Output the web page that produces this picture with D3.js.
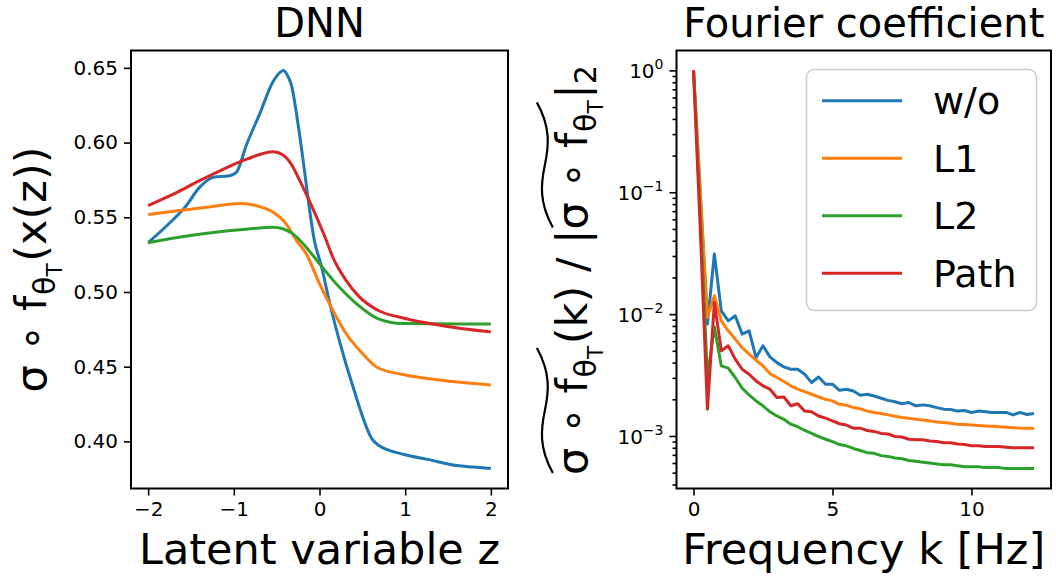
<!DOCTYPE html>
<html>
<head>
<meta charset="utf-8">
<script src="https://cdn.jsdelivr.net/npm/d3@7"></script>
<style>
  body { margin: 0; background: #fff; }
  svg { display: block; }
  text { font-family: "DejaVu Sans", sans-serif; fill: #000; }
</style>
</head>
<body>
<svg id="chart" width="1056" height="577"></svg>
<script>
// ---- DNN panel: sigma(f(x(z))) for each regulariser ----
const woZ = [-2, -1.78, -1.57, -1.4, -1.24, -1.05, -0.97, -0.85, -0.7, -0.54, -0.42, -0.37, -0.33, -0.25, -0.17, -0.12, -0.06, 0.02, 0.12, 0.23, 0.39, 0.62, 0.68, 1.0, 1.28, 1.6, 1.8, 2.0];
const woV = [0.533, 0.5445, 0.5567, 0.570, 0.5767, 0.5778, 0.580, 0.5989, 0.6189, 0.6411, 0.6483, 0.6445, 0.639, 0.6123, 0.5789, 0.5567, 0.5345, 0.5178, 0.4923, 0.4678, 0.4367, 0.4011, 0.3978, 0.3911, 0.3878, 0.3838, 0.3828, 0.3818];

const l1Z = [-2, -1.63, -1.32, -0.91, -0.74, -0.54, -0.39, -0.27, -0.155, 0, 0.155, 0.31, 0.5, 0.68, 1.0, 1.4, 2.0];
const l1V = [0.5518, 0.5545, 0.5567, 0.5593, 0.5578, 0.5533, 0.5456, 0.5345, 0.5256, 0.5056, 0.4878, 0.4722, 0.4589, 0.4493, 0.4445, 0.4411, 0.4378];

const l2Z = [-2, -1.51, -0.93, -0.54, -0.43, -0.31, -0.155, 0, 0.23, 0.43, 0.68, 0.97, 2.0];
const l2V = [0.533, 0.5378, 0.5416, 0.5433, 0.5423, 0.5389, 0.530, 0.5189, 0.5033, 0.4922, 0.4822, 0.4789, 0.4785];

const pathZ = [-2, -1.7, -1.4, -1.12, -0.85, -0.54, -0.43, -0.33, -0.23, -0.12, 0, 0.08, 0.155, 0.31, 0.465, 0.68, 1.0, 1.4, 2.0];
const pathV = [0.5578, 0.5656, 0.5745, 0.5823, 0.5889, 0.5938, 0.5918, 0.5856, 0.5745, 0.5611, 0.5456, 0.5345, 0.5233, 0.5078, 0.4967, 0.4878, 0.4823, 0.4778, 0.4733];

// ---- Fourier panel: normalised coefficient magnitude per frequency ----
const freqK = [0, 0.25, 0.5, 0.75, 1, 1.25, 1.5, 1.75, 2, 2.25, 2.5, 2.75, 3, 3.25, 3.5, 3.75, 4, 4.25, 4.5, 4.75,
  5, 5.25, 5.5, 5.75, 6, 6.25, 6.5, 6.75, 7, 7.25, 7.5, 7.75, 8, 8.25, 8.5, 8.75, 9, 9.25, 9.5, 9.75,
  10, 10.25, 10.5, 10.75, 11, 11.25, 11.5, 11.75, 12, 12.25];
const fcWo = [1, 0.09, 0.0083, 0.0311, 0.01064, 0.0088, 0.0097, 0.00685, 0.0073, 0.0044, 0.0055, 0.00446, 0.0040, 0.00369, 0.00353, 0.00353, 0.00321, 0.00274, 0.00305, 0.00266,
  0.00266, 0.00237, 0.00242, 0.00234, 0.00216, 0.0022, 0.00213, 0.00204, 0.00196, 0.00191, 0.00184, 0.00188, 0.00177, 0.0018, 0.00177, 0.00171, 0.00166, 0.00165, 0.0016, 0.00162,
  0.00156, 0.0016, 0.00158, 0.00156, 0.00156, 0.00156, 0.00149, 0.00156, 0.0015, 0.00153];
const fcL1 = [1, 0.095, 0.0094, 0.01416, 0.0088, 0.0073, 0.00623, 0.00532, 0.00469, 0.00419, 0.00376, 0.00325, 0.00302, 0.0028, 0.00258, 0.00242, 0.00231, 0.0022, 0.00209, 0.002,
  0.00194, 0.00182, 0.00179, 0.00171, 0.00167, 0.0016, 0.00156, 0.00153, 0.00149, 0.00145, 0.00142, 0.0014, 0.00137, 0.00135, 0.00133, 0.0013, 0.00129, 0.00127, 0.00125, 0.00124,
  0.00123, 0.00122, 0.00121, 0.0012, 0.00119, 0.00118, 0.00117, 0.00116, 0.00116, 0.00115];
const fcL2 = [1, 0.06, 0.0030, 0.00787, 0.00376, 0.0036, 0.00302, 0.00247, 0.00217, 0.00194, 0.00177, 0.00158, 0.00146, 0.00137, 0.00125, 0.00119, 0.00111, 0.00105, 0.00099, 0.00094,
  0.0009, 0.00085, 0.00083, 0.00079, 0.00076, 0.00073, 0.00072, 0.00069, 0.00068, 0.00066, 0.00065, 0.00063, 0.00062, 0.00061, 0.0006, 0.00059, 0.00058, 0.00058, 0.00057, 0.00056,
  0.00056, 0.00056, 0.00055, 0.00055, 0.00055, 0.00054, 0.00054, 0.00054, 0.00054, 0.00054];
const fcPath = [1, 0.045, 0.00166, 0.01247, 0.005, 0.0055, 0.00427, 0.00353, 0.00321, 0.00283, 0.00258, 0.00242, 0.00207, 0.00209, 0.00177, 0.00184, 0.0016, 0.00158, 0.00146, 0.0014,
  0.00133, 0.00126, 0.00123, 0.00116, 0.00116, 0.00111, 0.00109, 0.00105, 0.00104, 0.00099, 0.00098, 0.00094, 0.00093, 0.00093, 0.00091, 0.0009, 0.00088, 0.00088, 0.00086, 0.00085,
  0.00083, 0.00083, 0.00082, 0.00082, 0.00082, 0.00081, 0.0008, 0.0008, 0.0008, 0.0008];

const seriesNames = ['w/o', 'L1', 'L2', 'Path'];
const seriesColors = ['#1f77b4', '#ff7f0e', '#2ca02c', '#d62728'];

const dnnTicksX = [-2, -1, 0, 1, 2];
const dnnTicksY = [0.40, 0.45, 0.50, 0.55, 0.60, 0.65];
const fcTicksX = [0, 5, 10];
const fcTicksY = [1, 0.1, 0.01, 0.001];
const fcTickExp = ['0', '\u22121', '\u22122', '\u22123'];

const svg = d3.select('#chart');

// panel boxes (pixels)
const boxL = { x0: 131, x1: 508, y0: 50.5, y1: 488.5 };
const boxR = { x0: 676.5, x1: 1051, y0: 50.5, y1: 488.5 };

const TICK_FONT = 20;
const TITLE_FONT = 40;
const LABEL_FONT = 43;

// matplotlib-like autoscale with 5% margins
function padded(lo, hi) {
    const m = (hi - lo) * 0.05;
    return [lo - m, hi + m];
}

// ---------------- left panel ----------------
const xL = d3.scaleLinear().domain(padded(-2, 2)).range([boxL.x0, boxL.x1]);
const yL = d3.scaleLinear()
    .domain(padded(d3.min(woV), d3.max(woV)))
    .range([boxL.y1, boxL.y0]);

const defs = svg.append('defs');
defs.append('clipPath').attr('id', 'clipL').append('rect')
    .attr('x', boxL.x0).attr('y', boxL.y0)
    .attr('width', boxL.x1 - boxL.x0).attr('height', boxL.y1 - boxL.y0);
defs.append('clipPath').attr('id', 'clipR').append('rect')
    .attr('x', boxR.x0).attr('y', boxR.y0)
    .attr('width', boxR.x1 - boxR.x0).attr('height', boxR.y1 - boxR.y0);

const dnnSeries = [
    { z: woZ, v: woV },
    { z: l1Z, v: l1V },
    { z: l2Z, v: l2V },
    { z: pathZ, v: pathV }
];

const lineL = d3.line()
    .x((d) => xL(d[0]))
    .y((d) => yL(d[1]))
    .curve(d3.curveMonotoneX);

const gL = svg.append('g').attr('clip-path', 'url(#clipL)');
dnnSeries.forEach((s, i) => {
    gL.append('path')
        .datum(s.z.map((z, j) => [z, s.v[j]]))
        .attr('d', lineL)
        .attr('fill', 'none')
        .attr('stroke', seriesColors[i])
        .attr('stroke-width', 3)
        .attr('stroke-linejoin', 'round');
});

// axes
const axL_x = svg.append('g')
    .attr('transform', `translate(0,${boxL.y1})`)
    .call(d3.axisBottom(xL).tickValues(dnnTicksX).tickSize(7).tickPadding(6)
        .tickFormat((d) => (d < 0 ? '\u2212' + Math.abs(d) : String(d))));
const axL_y = svg.append('g')
    .attr('transform', `translate(${boxL.x0},0)`)
    .call(d3.axisLeft(yL).tickValues(dnnTicksY).tickSize(7).tickPadding(6)
        .tickFormat(d3.format('.2f')));

// ---------------- right panel ----------------
const xR = d3.scaleLinear().domain(padded(0, d3.max(freqK))).range([boxR.x0, boxR.x1]);
const allFc = fcWo.concat(fcL1, fcL2, fcPath);
const logLo = Math.log10(d3.min(allFc));
const logHi = Math.log10(d3.max(allFc));
const logDom = padded(logLo, logHi);
const yR = d3.scaleLog()
    .domain([Math.pow(10, logDom[0]), Math.pow(10, logDom[1])])
    .range([boxR.y1, boxR.y0]);

const fcSeries = [fcWo, fcL1, fcL2, fcPath];
const lineR = d3.line()
    .x((d) => xR(d[0]))
    .y((d) => yR(d[1]));

const gR = svg.append('g').attr('clip-path', 'url(#clipR)');
fcSeries.forEach((vals, i) => {
    gR.append('path')
        .datum(freqK.map((k, j) => [k, vals[j]]))
        .attr('d', lineR)
        .attr('fill', 'none')
        .attr('stroke', seriesColors[i])
        .attr('stroke-width', 3)
        .attr('stroke-linejoin', 'round');
});

const axR_x = svg.append('g')
    .attr('transform', `translate(0,${boxR.y1})`)
    .call(d3.axisBottom(xR).tickValues(fcTicksX).tickSize(7).tickPadding(6));

// minor ticks on the log axis
const minorTicks = [];
[-4, -3, -2, -1].forEach((e) => {
    for (let m = 2; m <= 9; m++) {
        const v = m * Math.pow(10, e);
        if (v > yR.domain()[0] && v < yR.domain()[1]) minorTicks.push(v);
    }
});
svg.append('g')
    .attr('transform', `translate(${boxR.x0},0)`)
    .call(d3.axisLeft(yR).tickValues(minorTicks).tickSize(4).tickFormat(''))
    .attr('class', 'minor');

const axR_y = svg.append('g')
    .attr('transform', `translate(${boxR.x0},0)`)
    .call(d3.axisLeft(yR).tickValues(fcTicksY).tickSize(7).tickPadding(6).tickFormat(''));
axR_y.selectAll('.tick').each(function (d, i) {
    const t = d3.select(this).append('text')
        .attr('x', -13).attr('y', 0).attr('dy', '0.36em')
        .attr('text-anchor', 'end')
        .style('font-size', TICK_FONT + 'px');
    t.append('tspan').text('10');
    t.append('tspan').attr('dy', -9).style('font-size', '14px').text(fcTickExp[fcTicksY.indexOf(d)]);
});

// style all axes like matplotlib
svg.selectAll('.domain').remove();
svg.selectAll('.tick line').attr('stroke', '#000').attr('stroke-width', 1.6);
svg.selectAll('.tick text').style('font-size', TICK_FONT + 'px').attr('fill', '#000');
svg.selectAll('g').filter(function () { return this.getAttribute('font-family'); })
    .attr('font-family', null).attr('font-size', null);

// frames
[boxL, boxR].forEach((b) => {
    svg.append('rect')
        .attr('x', b.x0).attr('y', b.y0)
        .attr('width', b.x1 - b.x0).attr('height', b.y1 - b.y0)
        .attr('fill', 'none').attr('stroke', '#000').attr('stroke-width', 2);
});

// ---------------- legend ----------------
const legend = svg.append('g');
legend.append('rect')
    .attr('x', 806.5).attr('y', 69.5).attr('width', 230).attr('height', 241)
    .attr('rx', 8).attr('ry', 8)
    .attr('fill', '#fff').attr('fill-opacity', 0.8)
    .attr('stroke', '#cccccc').attr('stroke-width', 1.5);
seriesNames.forEach((name, i) => {
    const ly = 100.7 + i * 57.5;
    legend.append('line')
        .attr('x1', 822).attr('x2', 902).attr('y1', ly).attr('y2', ly)
        .attr('stroke', seriesColors[i]).attr('stroke-width', 3);
    legend.append('text')
        .attr('x', 933).attr('y', ly + 13.5)
        .style('font-size', '38px')
        .text(name);
});

// ---------------- titles and axis labels ----------------
const cxL = (boxL.x0 + boxL.x1) / 2;
const cxR = (boxR.x0 + boxR.x1) / 2;
svg.append('text').attr('x', cxL).attr('y', 37).attr('text-anchor', 'middle')
    .style('font-size', TITLE_FONT + 'px').text('DNN');
svg.append('text').attr('x', cxR).attr('y', 37).attr('text-anchor', 'middle')
    .style('font-size', TITLE_FONT + 'px').text('Fourier coefficient');
svg.append('text').attr('x', cxL).attr('y', 564).attr('text-anchor', 'middle')
    .style('font-size', LABEL_FONT + 'px').text('Latent variable z');
svg.append('text').attr('x', cxR).attr('y', 564).attr('text-anchor', 'middle')
    .style('font-size', LABEL_FONT + 'px').text('Frequency k [Hz]');

// lay out a run of text pieces (math-like label) along a baseline, return extents
function mathRuns(g, runs, size) {
    let x = 0;
    const spans = [];
    runs.forEach((r) => {
        const fs = size * (r.scale || 1);
        const t = g.append('text')
            .attr('x', x).attr('y', (r.shift || 0) * size)
            .style('font-size', fs + 'px')
            .text(r.t);
        const w = t.node().getComputedTextLength();
        spans.push({ x0: x, x1: x + w, tag: r.tag });
        x += w + (r.gap || 0) * size;
    });
    return { width: x, spans: spans };
}

function yLabel(x, yc, runs, size, tildeTags) {
    const outer = svg.append('g').attr('transform', `translate(${x},${yc}) rotate(-90)`);
    const inner = outer.append('g');
    const res = mathRuns(inner, runs, size);
    inner.attr('transform', `translate(${-res.width / 2},0)`);
    tildeTags.forEach((tag) => {
        const sp = res.spans.filter((s) => s.tag === tag);
        const a = d3.min(sp, (s) => s.x0) + 2;
        const b = d3.max(sp, (s) => s.x1) - 2;
        const w = b - a;
        const top = -size * 0.98;
        inner.append('path')
            .attr('d', `M${a},${top + 8} C${a + w * 0.2},${top - 6} ${a + w * 0.35},${top - 4} ${a + w * 0.5},${top}`
                + ` S${a + w * 0.8},${top + 6} ${b},${top - 8}`)
            .attr('fill', 'none').attr('stroke', '#000').attr('stroke-width', 2.2);
    });
}

const sub = 0.7, subsub = 0.5;
yLabel(46, 269.5, [
    { t: '\u03c3 \u2218 f', gap: 0.02 },
    { t: '\u03b8', scale: sub, shift: 0.2 },
    { t: 'T', scale: subsub, shift: 0.38, gap: 0.04 },
    { t: '(x(z))' }
], LABEL_FONT, []);

yLabel(587, 270, [
    { t: '\u03c3 \u2218 f', gap: 0.02, tag: 'a' },
    { t: '\u03b8', scale: sub, shift: 0.2, tag: 'a' },
    { t: 'T', scale: subsub, shift: 0.38, gap: 0.04, tag: 'a' },
    { t: '(k) / |' },
    { t: '\u03c3 \u2218 f', gap: 0.02, tag: 'b' },
    { t: '\u03b8', scale: sub, shift: 0.2, tag: 'b' },
    { t: 'T', scale: subsub, shift: 0.38, gap: 0.04, tag: 'b' },
    { t: '|' },
    { t: '2', scale: sub, shift: 0.2 }
], LABEL_FONT, ['a', 'b']);
</script>
</body>
</html>
